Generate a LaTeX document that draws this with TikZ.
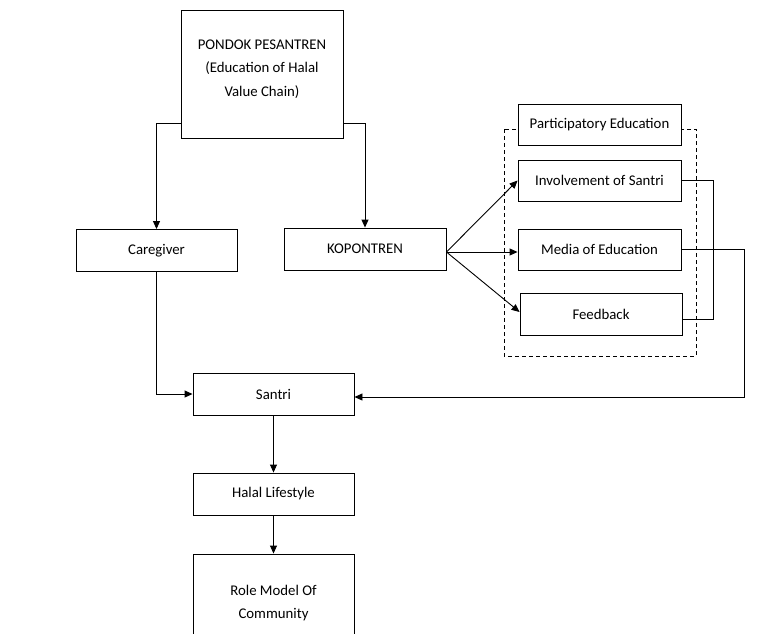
\documentclass[tikz,border=0pt]{standalone}
\usepackage{fontspec}
\setmainfont{Carlito}
\usetikzlibrary{arrows.meta}
\tikzset{
  box/.style={draw, line width=0.9pt, fill=white, inner sep=0pt,
    minimum width=162pt, minimum height=42pt, align=center,
    font=\fontsize{14.8}{23}\selectfont},
  lbl/.style={inner sep=0pt, align=center, font=\fontsize{14.8}{23.5}\selectfont},
  conn/.style={line width=0.9pt},
  arr/.style={conn, -{Triangle[length=8pt,width=7pt]}},
  group/.style={line width=0.9pt, dash pattern=on 4pt off 3pt}
}
\begin{document}
\begin{tikzpicture}[x=1pt, y=-1pt]
\useasboundingbox (0,0) rectangle (784,633);
\clip (0,0) rectangle (784,633);

% dashed frame around the participatory education group
\draw[group] (504,129) rectangle (696,356);

% main column
\node[box, minimum height=128pt] (pp) at (262,74) {};
\node[lbl] (ppt) at (262,69) {PONDOK PESANTREN\\(Education of Halal\\Value Chain)};
\node[box, minimum width=161pt] (care) at (156.5,250.5) {Caregiver};
\node[box] (kop) at (365,249) {KOPONTREN};
\node[box, minimum width=161pt] (santri) at (273.5,394) {Santri};
\node[box, minimum width=161pt] (halal) at (273.5,494) {Halal Lifestyle};
\node[box, minimum width=161pt, minimum height=86pt] (role) at (273.5,597) {};
\node[lbl] (rolet) at (273.5,603) {Role Model Of\\Community};

% participatory education group
\node[box, minimum width=163pt, minimum height=41pt] (part) at (599.5,124.5) {Participatory Education};
\node[box, minimum width=163pt, minimum height=41pt] (inv) at (599.5,180.5) {Involvement of Santri};
\node[box, minimum width=163pt, minimum height=41pt] (media) at (599.5,249.5) {Media of Education};
\node[box] (feed) at (601,314) {Feedback};

% connectors
\draw[arr] ([yshift=-49pt]pp.west) -| (care.north);
\draw[arr] ([yshift=-49pt]pp.east) -| (kop.north);
\coordinate (kout) at ([yshift=-3pt]kop.east);
\draw[arr] (kout) -- (inv.west);
\draw[arr] (kout) -- (kout -| media.west);
\draw[arr] (kout) -- ([yshift=2pt]feed.west);
\draw[conn] (inv.east) -- ++(32,0) |- ([yshift=-5pt]feed.east);
\draw[arr] (media.east) -- ++(63,0) |- ([yshift=-3pt]santri.east);
\draw[arr] (care.south) |- (santri.west);
\draw[arr] (santri.south) -- (halal.north);
\draw[arr] (halal.south) -- (role.north);
\end{tikzpicture}
\end{document}
